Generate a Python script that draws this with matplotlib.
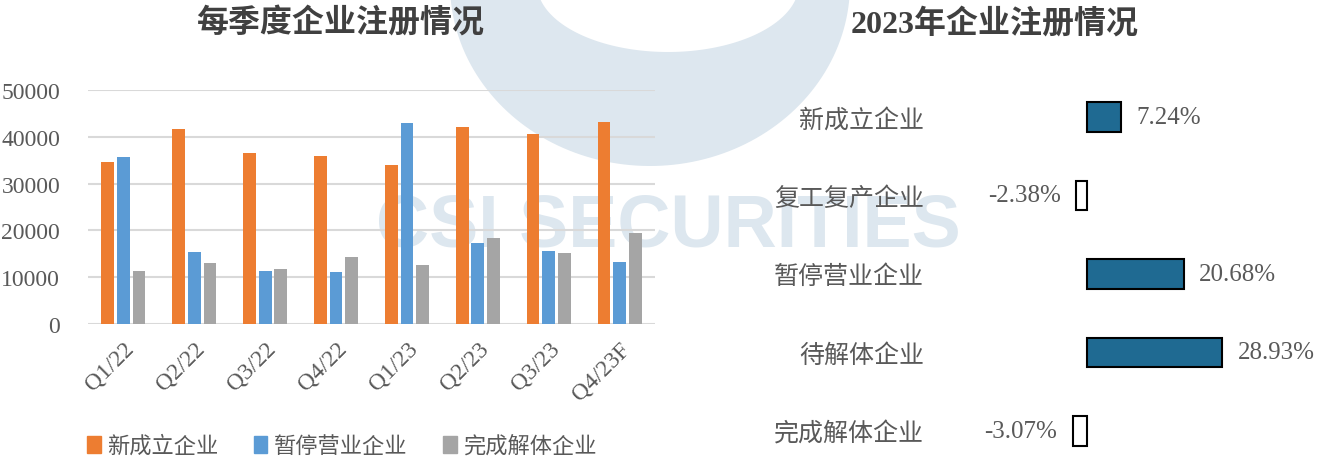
import matplotlib
matplotlib.use('Agg')
import matplotlib.pyplot as plt
import numpy as np
from matplotlib.path import Path
from matplotlib.patches import PathPatch, Patch

plt.rcParams['font.family'] = ['Liberation Serif', 'Noto Sans CJK SC']
plt.rcParams['axes.unicode_minus'] = False

# 每季度企业注册情况
quarters = ['Q1/22', 'Q2/22', 'Q3/22', 'Q4/22', 'Q1/23', 'Q2/23', 'Q3/23', 'Q4/23F']
new_firms = [34600, 41700, 36600, 35800, 33900, 42100, 40600, 43100]
suspended = [35700, 15400, 11400, 11200, 43000, 17300, 15600, 13300]
dissolved = [11400, 13100, 11800, 14400, 12700, 18300, 15100, 19400]
series_names = ['新成立企业', '暂停营业企业', '完成解体企业']

# 2023年企业注册情况
cats_2023 = ['新成立企业', '复工复产企业', '暂停营业企业', '待解体企业', '完成解体企业']
pct_2023 = [7.24, -2.38, 20.68, 28.93, -3.07]

W, H = 1317, 460
fig = plt.figure(figsize=(W / 100, H / 100), dpi=100)

TXT = '#595959'

# watermark (logo ring + text), drawn behind the axes
t = np.linspace(0, 2 * np.pi, 200)
outer = np.column_stack([650 + 200 * np.cos(t), -15 + 182 * np.sin(t)])
inner = np.column_stack([668 + 131 * np.cos(t), -15 + 68 * np.sin(t)])[::-1]
verts = np.vstack([outer, inner]) / [W, H]
verts[:, 1] = 1 - verts[:, 1]
codes = ([Path.MOVETO] + [Path.LINETO] * 199) * 2
fig.patches.append(PathPatch(Path(verts, codes), transform=fig.transFigure,
                             facecolor='#DDE7EF', edgecolor='none', zorder=-2))
fig.text(668 / W, 1 - 227 / H, 'CSI SECURITIES', family='Liberation Sans',
         fontweight='bold', fontsize=53, color='#DDE7EF', ha='center', va='center',
         zorder=-1)

# left: grouped bars
ax = fig.add_axes([88 / W, 1 - 325 / H, (655 - 88) / W, (325 - 91) / H])
ax.patch.set_alpha(0)
x = np.arange(len(quarters))
bw = 0.18
ax.bar(x - 0.22, new_firms, bw, color='#ED7D31', label=series_names[0], zorder=3)
ax.bar(x, suspended, bw, color='#5B9BD5', label=series_names[1], zorder=3)
ax.bar(x + 0.22, dissolved, bw, color='#A5A5A5', label=series_names[2], zorder=3)
ax.set_xlim(-0.5, len(quarters) - 0.5)
ax.set_ylim(0, 50000)
ax.set_yticks(range(0, 50001, 10000))
ax.grid(axis='y', color='#D9D9D9', linewidth=1.5, zorder=0)
for s in ax.spines.values():
    s.set_visible(False)
ax.tick_params(axis='both', length=0, labelsize=17, labelcolor=TXT)
ax.tick_params(axis='y', pad=20)
ax.set_xticks(x)
ax.set_xticklabels(quarters, rotation=45, ha='right', rotation_mode='anchor')
ax.tick_params(axis='x', pad=10)

fig.text(340 / W, 1 - 24 / H, '每季度企业注册情况', ha='center', va='center',
         fontsize=23, fontweight='bold', color='#404040')

handles = [Patch(color=c) for c in ['#ED7D31', '#5B9BD5', '#A5A5A5']]
fig.legend(handles, series_names, loc='center', bbox_to_anchor=(342 / W, 1 - 447 / H),
           ncol=3, frameon=False, fontsize=16, labelcolor=TXT, handlelength=0.6,
           handleheight=0.8, handletextpad=0.3, columnspacing=1.6)

# right: horizontal bars of 2023 change
ax2 = fig.add_axes([935 / W, 0, (1310 - 935) / W, 380 / H])
ax2.patch.set_alpha(0)
y = np.arange(len(cats_2023))
colors = ['#1F6A92' if v > 0 else 'white' for v in pct_2023]
bars = ax2.barh(y, pct_2023, height=0.38, color=colors, edgecolor='black', linewidth=1.5)
ax2.bar_label(bars, labels=[f'{v:.2f}%' for v in pct_2023], padding=11,
              fontsize=18, color=TXT)
ax2.set_xlim(-32.5, 47.7)
ax2.set_ylim(4.357, -0.484)
ax2.set_yticks(y)
ax2.set_yticklabels(cats_2023)
ax2.set_xticks([])
for s in ax2.spines.values():
    s.set_visible(False)
ax2.tick_params(axis='y', length=0, labelsize=18, labelcolor=TXT, pad=8)

fig.text(995 / W, 1 - 24 / H, '2023年企业注册情况', ha='center', va='center',
         fontsize=23, fontweight='bold', color='#404040')

fig.savefig('out.png', dpi=100)
